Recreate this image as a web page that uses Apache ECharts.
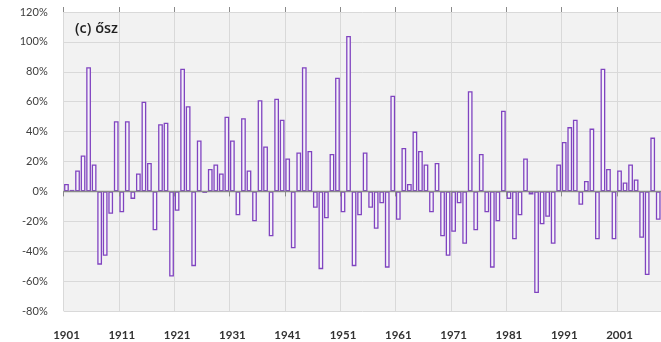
<!DOCTYPE html>
<html>
<head>
<meta charset="utf-8">
<script src="https://cdn.jsdelivr.net/npm/echarts@6/dist/echarts.min.js"></script>
<style>
  html, body { margin: 0; padding: 0; background: #ffffff; }
  #chart { width: 661px; height: 342px; }
</style>
</head>
<body>
<div id="chart"></div>
<script>
// Autumn (ősz) anomalies by year, in percent
const years = [];
for (let y = 1901; y <= 2008; y++) years.push(String(y));

const anomaly = [
  5, 1, 14, 24, 83, 18, -49, -43, -15, 47,        // 1901-1910
  -14, 47, -5, 12, 60, 19, -26, 45, 46, -57,      // 1911-1920
  -13, 82, 57, -50, 34, -1, 15, 18, 12, 50,       // 1921-1930
  34, -16, 49, 14, -20, 61, 30, -30, 62, 48,      // 1931-1940
  22, -38, 26, 83, 27, -11, -52, -18, 25, 76,     // 1941-1950
  -14, 104, -50, -16, 26, -11, -25, -8, -51, 64,  // 1951-1960
  -19, 29, 5, 40, 27, 18, -14, 19, -30, -43,      // 1961-1970
  -27, -8, -35, 67, -26, 25, -14, -51, -20, 54,   // 1971-1980
  -5, -32, -16, 22, -2, -68, -22, -17, -35, 18,   // 1981-1990
  33, 43, 48, -9, 7, 42, -32, 82, 15, -32,        // 1991-2000
  14, 6, 18, 8, -31, -56, 36, -19                 // 2001-2008
];

const yTicks = { min: -80, max: 120, step: 20 };
const panelTitle = '(c) ősz';

const chart = echarts.init(document.getElementById('chart'), null, { renderer: 'canvas' });

const gridColor = '#d9d9d9';
const axisGrey = '#8a8a8a';

chart.setOption({
  animation: false,
  backgroundColor: '#ffffff',
  textStyle: { fontFamily: 'Lato' },
  grid: {
    left: 63.7, top: 12, width: 604.8, height: 299,
    show: true, backgroundColor: '#f2f2f2', borderWidth: 0
  },
  graphic: [{
    type: 'text', left: 75, top: 21, z: 10,
    style: { text: panelTitle, font: '600 14.5px "Open Sans"', fill: '#1f1f1f' }
  }],
  xAxis: [
    {
      type: 'category', data: years, position: 'bottom',
      axisLine: { show: false, onZero: false },
      axisTick: { show: false },
      axisLabel: {
        interval: 9, margin: 18, color: '#333333',
        fontFamily: 'Lato', fontSize: 11.5, fontWeight: 'bold'
      },
      splitLine: { show: true, interval: 9, lineStyle: { color: gridColor, width: 1 } }
    },
    {
      type: 'category', data: years, position: 'bottom', z: 5,
      axisLine: { show: true, onZero: true, lineStyle: { color: axisGrey, width: 1.3 } },
      axisTick: { show: true, interval: 9, length: 5, lineStyle: { color: axisGrey, width: 1 } },
      axisLabel: { show: false },
      splitLine: { show: false }
    },
    {
      type: 'category', data: years, position: 'top', z: 5,
      axisLine: { show: false, onZero: true },
      axisTick: { show: true, interval: 9, length: 5, lineStyle: { color: axisGrey, width: 1 } },
      axisLabel: { show: false },
      splitLine: { show: false }
    }
  ],
  yAxis: {
    type: 'value',
    min: yTicks.min, max: yTicks.max, interval: yTicks.step,
    axisLine: { show: false },
    axisTick: { show: false },
    axisLabel: {
      formatter: '{value}%', margin: 16, color: '#404040',
      fontFamily: 'Lato', fontSize: 11
    },
    splitLine: { show: true, lineStyle: { color: gridColor, width: 1 } }
  },
  series: [{
    type: 'bar',
    xAxisIndex: 0,
    data: anomaly,
    barCategoryGap: '14%',
    itemStyle: {
      color: 'rgba(246,243,250,0.85)',
      borderColor: '#8044c0',
      borderWidth: 1.3
    }
  }]
});
</script>
</body>
</html>
